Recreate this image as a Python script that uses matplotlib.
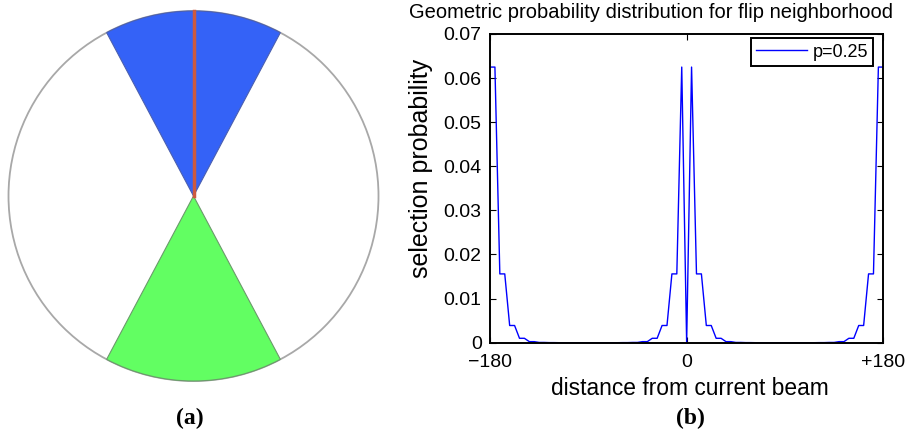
import numpy as np
import matplotlib.pyplot as plt
from matplotlib.patches import Circle, Wedge

plt.rcParams['font.family'] = ['Liberation Sans', 'DejaVu Sans']

# panel (a): beam directions on the circle (degrees)
beam_angle = 90
neighbor_angle = 270
half_width = 28

# panel (b): selection probability vs distance from current beam
distance = np.linspace(-180, 180, 81)
probability = [
    0.0625, 0.0625, 0.0156, 0.0156, 0.0039, 0.0039, 0.001, 0.001, 0.00024, 0.00024,
    0.00006, 0.00006, 0.00002, 0.00002, 0, 0, 0, 0, 0, 0,
    0, 0, 0, 0, 0, 0, 0, 0.00002, 0.00002, 0.00006,
    0.00006, 0.00024, 0.00024, 0.001, 0.001, 0.0039, 0.0039, 0.0156, 0.0156, 0.0625,
    0,
    0.0625, 0.0156, 0.0156, 0.0039, 0.0039, 0.001, 0.001, 0.00024, 0.00024, 0.00006,
    0.00006, 0.00002, 0.00002, 0, 0, 0, 0, 0, 0, 0,
    0, 0, 0, 0, 0, 0, 0.00002, 0.00002, 0.00006, 0.00006,
    0.00024, 0.00024, 0.001, 0.001, 0.0039, 0.0039, 0.0156, 0.0156, 0.0625, 0.0625,
]

fig = plt.figure(figsize=(9.16, 4.4), dpi=100)

# ---- left panel: circle with wedges ----
axl = fig.add_axes([0, 0, 390 / 916, 1])
axl.set_xlim(0, 390)
axl.set_ylim(0, 440)
axl.set_aspect('equal')
axl.axis('off')
cx, cy, r = 193.5, 244, 185
axl.add_patch(Circle((cx, cy), r, facecolor='white', edgecolor='#a8a8a8', lw=1.3))
axl.add_patch(Wedge((cx, cy), r, beam_angle - half_width, beam_angle + half_width,
                    facecolor='#3462f7', edgecolor='#4a5fb0', lw=0.8))
axl.add_patch(Wedge((cx, cy), r, neighbor_angle - half_width, neighbor_angle + half_width,
                    facecolor='#62fe62', edgecolor='#6a9a6a', lw=0.8))
axl.plot([cx, cx + r * np.cos(np.radians(beam_angle))],
         [cy, cy + r * np.sin(np.radians(beam_angle))], color='#cc5a40', lw=2.5)

# ---- right panel: probability distribution ----
ax = fig.add_axes([490 / 916, 1 - 342.7 / 440, 393.3 / 916, 308.7 / 440])
ax.plot(distance, probability, color='#0000ff', lw=1.0, label='p=0.25')
ax.set_xlim(-180, 180)
ax.set_ylim(0, 0.07)
ax.set_xticks([-180, 0, 180])
ax.set_xticklabels(['\u2212180', '0', '+180'])
ax.set_yticks(np.arange(0, 0.071, 0.01))
ax.set_yticklabels(['0', '0.01', '0.02', '0.03', '0.04', '0.05', '0.06', '0.07'])
ax.tick_params(direction='in', top=True, right=True, labelsize=14, length=4, width=0.8)
ax.tick_params(axis='x', pad=8)
ax.tick_params(axis='y', pad=6)
for s in ax.spines.values():
    s.set_linewidth(1.4)
ax.set_xlabel('distance from current beam', fontsize=16.4)
ax.xaxis.set_label_coords(0.508, -0.11)
ax.set_ylabel('selection probability', fontsize=18)
ax.yaxis.set_label_coords(-0.145, 0.566)
fig.text(651 / 916, 1 - 12 / 440, 'Geometric probability distribution for flip neighborhood',
         fontsize=14.5, ha='center', va='center')
leg = ax.legend(loc='upper right', bbox_to_anchor=(0.9746, 0.986), fontsize=13,
                fancybox=False, framealpha=1, handlelength=2.8, handletextpad=0.3,
                borderaxespad=0, borderpad=0.3)
leg.get_frame().set_edgecolor('black')
leg.get_frame().set_linewidth(1.4)

fig.text(190 / 916, 1 - 418 / 440, '(a)', fontsize=17, fontweight='bold',
         family='Liberation Serif', ha='center', va='center')
fig.text(690 / 916, 1 - 418 / 440, '(b)', fontsize=17, fontweight='bold',
         family='Liberation Serif', ha='center', va='center')

fig.savefig('out.png', dpi=100)
